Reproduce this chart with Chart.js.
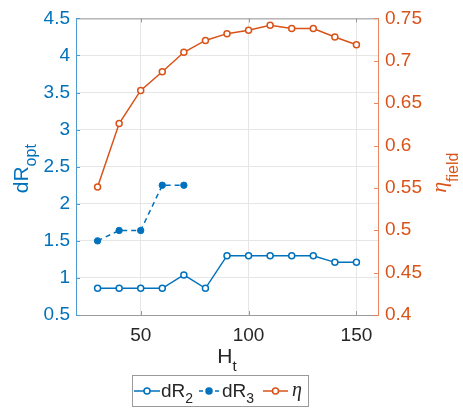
<!DOCTYPE html>
<html>
<head>
<meta charset="utf-8">
<script src="https://cdn.jsdelivr.net/npm/chart.js@4/dist/chart.umd.min.js"></script>
<style>
  html, body { margin: 0; padding: 0; background: #fff; }
  #wrap { width: 463px; height: 409px; }
</style>
</head>
<body>
<div id="wrap"><canvas id="my-chart" width="463" height="409"></canvas></div>
<script>
const hValues = [30, 40, 50, 60, 70, 80, 90, 100, 110, 120, 130, 140, 150];
const dR2Values = [0.86, 0.86, 0.86, 0.86, 1.04, 0.86, 1.30, 1.30, 1.30, 1.30, 1.30, 1.21, 1.21];
const dR3Values = [1.5, 1.64, 1.64, 2.25, 2.25];
const etaValues = [0.551, 0.626, 0.665, 0.687, 0.710, 0.724, 0.732, 0.736, 0.742, 0.738, 0.738, 0.728, 0.719];

const hTicks = [50, 100, 150];
const dRTicks = [0.5, 1, 1.5, 2, 2.5, 3, 3.5, 4, 4.5];
const etaTicks = [0.4, 0.45, 0.5, 0.55, 0.6, 0.65, 0.7, 0.75];

const BLUE = "#0072BD";
const ORANGE = "#D95319";
const DARK = "#262626";
const FONT = "'Liberation Sans', Arial, sans-serif";

function toPoints(values) {
    return values.map(function(v, i) {
        return { x: hValues[i], y: v };
    });
}

function setTicks(list) {
    return function(scale) {
        scale.ticks = list.map(function(v) { return { value: v }; });
    };
}

function plainLabel(value) {
    return String(value);
}

// text with a subscript, drawn around (0,0) in the current transform, centred horizontally
function drawSubText(ctx, main, sub, mainFont, subFont, color, subDrop) {
    ctx.font = mainFont;
    let w1 = ctx.measureText(main).width;
    ctx.font = subFont;
    let w2 = ctx.measureText(sub).width;
    let x0 = -(w1 + w2) / 2;
    ctx.fillStyle = color;
    ctx.textBaseline = "alphabetic";
    ctx.textAlign = "left";
    ctx.font = mainFont;
    ctx.fillText(main, x0, 0);
    ctx.font = subFont;
    ctx.fillText(sub, x0 + w1, subDrop);
}

function drawLegendText(ctx, x, y, main, sub, mainFont, subFont) {
    ctx.fillStyle = DARK;
    ctx.textAlign = "left";
    ctx.textBaseline = "alphabetic";
    ctx.font = mainFont;
    ctx.fillText(main, x, y);
    let w = ctx.measureText(main).width;
    if (sub) {
        ctx.font = subFont;
        ctx.fillText(sub, x + w, y + 6);
    }
}

function drawSample(ctx, x1, x2, y, color, dashed, filled) {
    let cx = (x1 + x2) / 2;
    ctx.save();
    ctx.strokeStyle = color;
    ctx.lineWidth = 1.5;
    ctx.beginPath();
    if (dashed) {
        ctx.moveTo(x1, y);
        ctx.lineTo(x1 + 4, y);
        ctx.moveTo(x2 - 4, y);
        ctx.lineTo(x2, y);
    } else {
        ctx.moveTo(x1, y);
        ctx.lineTo(x2, y);
    }
    ctx.stroke();
    ctx.beginPath();
    ctx.arc(cx, y, 3, 0, Math.PI * 2);
    ctx.fillStyle = filled ? color : "#fff";
    ctx.fill();
    ctx.stroke();
    ctx.restore();
}

const decorations = {
    id: "decorations",
    afterDraw: function(chart) {
        const ctx = chart.ctx;
        const area = chart.chartArea;
        const xs = chart.scales.x;
        const ys = chart.scales.y;
        const ys1 = chart.scales.y1;
        ctx.save();

        // top edge of the box
        ctx.strokeStyle = "#9a9a9a";
        ctx.lineWidth = 1;
        ctx.beginPath();
        ctx.moveTo(area.left, area.top + 0.5);
        ctx.lineTo(area.right, area.top + 0.5);
        ctx.stroke();

        // inward tick marks
        ctx.strokeStyle = "#9a9a9a";
        hTicks.forEach(function(v) {
            let px = Math.round(xs.getPixelForValue(v)) + 0.5;
            ctx.beginPath();
            ctx.moveTo(px, area.bottom);
            ctx.lineTo(px, area.bottom - 4);
            ctx.moveTo(px, area.top);
            ctx.lineTo(px, area.top + 4);
            ctx.stroke();
        });
        ctx.strokeStyle = "#4d9bd1";
        dRTicks.forEach(function(v) {
            let py = Math.round(ys.getPixelForValue(v)) + 0.5;
            ctx.beginPath();
            ctx.moveTo(area.left, py);
            ctx.lineTo(area.left + 4, py);
            ctx.stroke();
        });
        ctx.strokeStyle = "#e8875c";
        etaTicks.forEach(function(v) {
            let py = Math.round(ys1.getPixelForValue(v)) + 0.5;
            ctx.beginPath();
            ctx.moveTo(area.right, py);
            ctx.lineTo(area.right - 4, py);
            ctx.stroke();
        });

        // axis titles
        const midY = (area.top + area.bottom) / 2;
        ctx.save();
        ctx.translate(28, midY + 2);
        ctx.rotate(-Math.PI / 2);
        drawSubText(ctx, "dR", "opt", "21px " + FONT, "16px " + FONT, BLUE, 8);
        ctx.restore();

        ctx.save();
        ctx.translate(446, midY + 6);
        ctx.rotate(-Math.PI / 2);
        drawSubText(ctx, "\u03b7", "field", "italic 22px 'Liberation Serif', serif", "16px " + FONT, ORANGE, 12);
        ctx.restore();

        ctx.save();
        ctx.translate((area.left + area.right) / 2, 363);
        drawSubText(ctx, "H", "t", "21px " + FONT, "15px " + FONT, DARK, 8);
        ctx.restore();

        // legend box
        ctx.fillStyle = "#fff";
        ctx.fillRect(132, 375, 177, 32);
        ctx.strokeStyle = "#9a9a9a";
        ctx.lineWidth = 1;
        ctx.strokeRect(132.5, 375.5, 176, 31);
        const ly = 391;
        drawSample(ctx, 134, 160, ly, BLUE, false, false);
        drawLegendText(ctx, 161, ly + 6, "dR", "2", "19px " + FONT, "14px " + FONT);
        drawSample(ctx, 199, 219, ly, BLUE, true, true);
        drawLegendText(ctx, 222, ly + 6, "dR", "3", "19px " + FONT, "14px " + FONT);
        drawSample(ctx, 263, 288, ly, ORANGE, false, false);
        ctx.fillStyle = DARK;
        ctx.font = "italic 20px 'Liberation Serif', serif";
        ctx.textAlign = "left";
        ctx.fillText("\u03b7", 292, ly + 5);

        ctx.restore();
    }
};

const ctx = document.getElementById("my-chart").getContext("2d");
const chart = new Chart(ctx, {
    type: "line",
    data: {
        datasets: [
            {
                label: "dR2",
                data: toPoints(dR2Values),
                yAxisID: "y",
                borderColor: BLUE,
                backgroundColor: "#fff",
                borderWidth: 1.5,
                pointRadius: 3,
                pointBorderWidth: 1.5,
                pointBackgroundColor: "#fff",
                tension: 0
            },
            {
                label: "dR3",
                data: toPoints(dR3Values),
                yAxisID: "y",
                borderColor: BLUE,
                backgroundColor: BLUE,
                borderWidth: 1.5,
                borderDash: [5, 4],
                pointRadius: 3.2,
                pointBorderWidth: 1,
                pointBackgroundColor: BLUE,
                tension: 0
            },
            {
                label: "\u03b7",
                data: toPoints(etaValues),
                yAxisID: "y1",
                borderColor: ORANGE,
                backgroundColor: "#fff",
                borderWidth: 1.5,
                pointRadius: 3,
                pointBorderWidth: 1.5,
                pointBackgroundColor: "#fff",
                tension: 0
            }
        ]
    },
    options: {
        responsive: false,
        animation: false,
        layout: { padding: { top: 16, left: 0, right: 0, bottom: 0 } },
        plugins: {
            legend: { display: false },
            tooltip: { enabled: false }
        },
        scales: {
            x: {
                type: "linear",
                min: 20,
                max: 160,
                afterBuildTicks: setTicks(hTicks),
                afterFit: function(scale) { scale.height = 94; },
                grid: { color: "#e6e6e6", drawTicks: false },
                border: { color: "#9a9a9a", width: 1 },
                ticks: { color: DARK, font: { family: FONT, size: 19 }, padding: 9, callback: plainLabel }
            },
            y: {
                position: "left",
                min: 0.5,
                max: 4.5,
                afterBuildTicks: setTicks(dRTicks),
                afterFit: function(scale) { scale.width = 76; },
                grid: { color: "#e6e6e6", drawTicks: false },
                border: { color: "#4d9bd1", width: 1 },
                ticks: { color: BLUE, font: { family: FONT, size: 19 }, padding: 6, callback: plainLabel }
            },
            y1: {
                position: "right",
                min: 0.4,
                max: 0.75,
                afterBuildTicks: setTicks(etaTicks),
                afterFit: function(scale) { scale.width = 85; },
                grid: { display: false, drawTicks: false },
                border: { color: "#e8875c", width: 1 },
                ticks: { color: ORANGE, font: { family: FONT, size: 19 }, padding: 7, callback: plainLabel }
            }
        }
    },
    plugins: [decorations]
});
</script>
</body>
</html>
